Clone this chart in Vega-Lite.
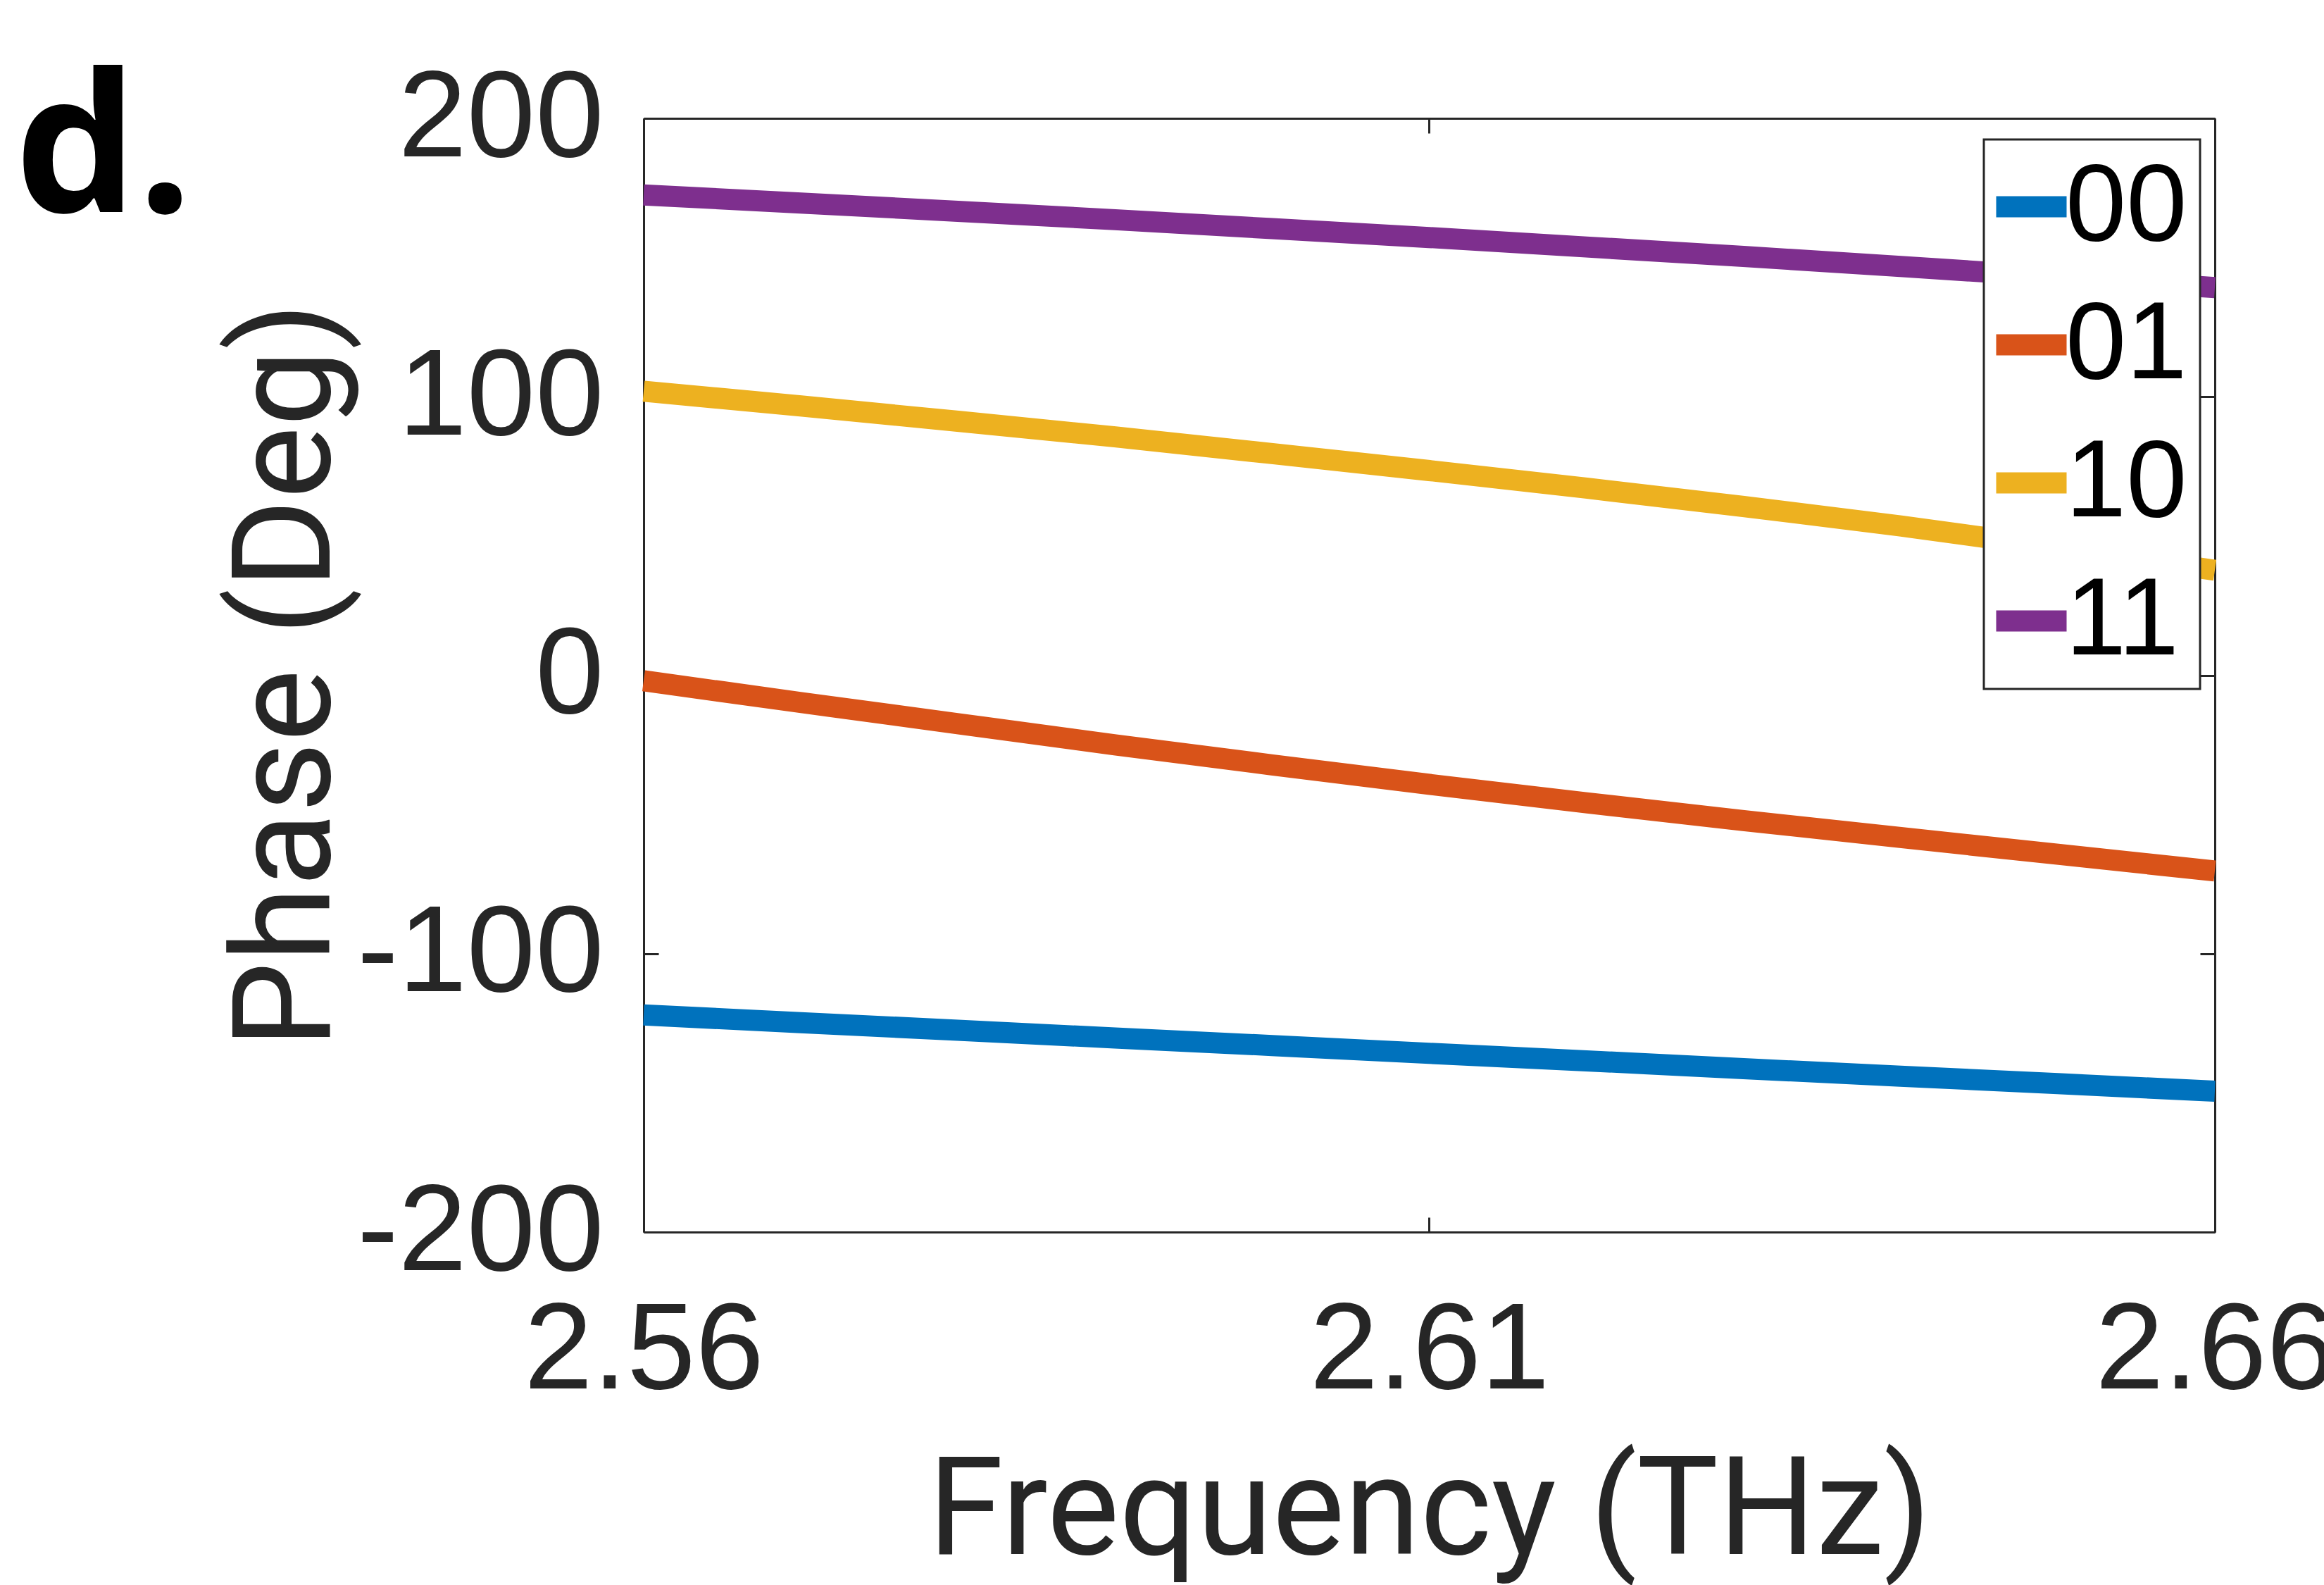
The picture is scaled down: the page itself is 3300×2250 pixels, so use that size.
{
  "$schema": "https://vega.github.io/schema/vega-lite/v6.json",
  "width": 2231,
  "height": 1581,
  "autosize": {"type": "none"},
  "padding": {"left": 914, "top": 168, "right": 155, "bottom": 501},
  "background": "white",
  "title": {
    "text": "d.",
    "anchor": "start",
    "frame": "group",
    "font": "Open Sans",
    "fontSize": 275,
    "fontWeight": "bold",
    "color": "black",
    "baseline": "alphabetic",
    "offset": 0,
    "dx": -893,
    "dy": 495
  },
  "config": {
    "view": {"stroke": null},
    "axis": {
      "grid": false,
      "domainColor": "#262626",
      "domainWidth": 3,
      "tickColor": "#262626",
      "tickWidth": 3,
      "tickSize": -21,
      "labelFont": "Liberation Sans",
      "labelFontSize": 175,
      "labelColor": "#262626",
      "labelLimit": 0,
      "labelFlush": false,
      "labelOverlap": false,
      "labelBound": false,
      "titleFont": "Roboto",
      "titleFontSize": 194,
      "titleFontWeight": "normal",
      "titleColor": "#262626"
    }
  },
  "data": {
    "values": [
      {"f": 2.56, "phase": -122.0, "state": "00"},
      {"f": 2.57, "phase": -124.8, "state": "00"},
      {"f": 2.58, "phase": -127.5, "state": "00"},
      {"f": 2.59, "phase": -130.3, "state": "00"},
      {"f": 2.60, "phase": -133.0, "state": "00"},
      {"f": 2.61, "phase": -135.8, "state": "00"},
      {"f": 2.62, "phase": -138.5, "state": "00"},
      {"f": 2.63, "phase": -141.3, "state": "00"},
      {"f": 2.64, "phase": -144.0, "state": "00"},
      {"f": 2.65, "phase": -146.7, "state": "00"},
      {"f": 2.66, "phase": -149.4, "state": "00"},
      {"f": 2.56, "phase": -2.0, "state": "01"},
      {"f": 2.57, "phase": -9.8, "state": "01"},
      {"f": 2.58, "phase": -17.4, "state": "01"},
      {"f": 2.59, "phase": -25.0, "state": "01"},
      {"f": 2.60, "phase": -32.2, "state": "01"},
      {"f": 2.61, "phase": -39.2, "state": "01"},
      {"f": 2.62, "phase": -45.8, "state": "01"},
      {"f": 2.63, "phase": -52.2, "state": "01"},
      {"f": 2.64, "phase": -58.3, "state": "01"},
      {"f": 2.65, "phase": -64.3, "state": "01"},
      {"f": 2.66, "phase": -70.3, "state": "01"},
      {"f": 2.56, "phase": 102.0, "state": "10"},
      {"f": 2.57, "phase": 96.7, "state": "10"},
      {"f": 2.58, "phase": 91.2, "state": "10"},
      {"f": 2.59, "phase": 85.6, "state": "10"},
      {"f": 2.60, "phase": 79.6, "state": "10"},
      {"f": 2.61, "phase": 73.5, "state": "10"},
      {"f": 2.62, "phase": 67.2, "state": "10"},
      {"f": 2.63, "phase": 60.6, "state": "10"},
      {"f": 2.64, "phase": 53.6, "state": "10"},
      {"f": 2.65, "phase": 45.9, "state": "10"},
      {"f": 2.66, "phase": 37.7, "state": "10"},
      {"f": 2.56, "phase": 172.5, "state": "11"},
      {"f": 2.57, "phase": 169.6, "state": "11"},
      {"f": 2.58, "phase": 166.6, "state": "11"},
      {"f": 2.59, "phase": 163.6, "state": "11"},
      {"f": 2.60, "phase": 160.4, "state": "11"},
      {"f": 2.61, "phase": 157.2, "state": "11"},
      {"f": 2.62, "phase": 153.8, "state": "11"},
      {"f": 2.63, "phase": 150.4, "state": "11"},
      {"f": 2.64, "phase": 146.8, "state": "11"},
      {"f": 2.65, "phase": 143.1, "state": "11"},
      {"f": 2.66, "phase": 139.2, "state": "11"}
    ]
  },
  "layer": [
    {
      "mark": {"type": "line", "strokeWidth": 30},
      "encoding": {
        "x": {
          "field": "f",
          "type": "quantitative",
          "scale": {"domain": [2.56, 2.66], "nice": false, "zero": false},
          "axis": {
            "orient": "bottom",
            "values": [2.56, 2.61, 2.66],
            "format": ".2f",
            "labelPadding": 104,
            "title": "Frequency (THz)",
            "titleX": 1115.5,
            "titleY": 456,
            "titleAlign": "center",
            "titleBaseline": "alphabetic"
          }
        },
        "y": {
          "field": "phase",
          "type": "quantitative",
          "scale": {"domain": [-200, 200], "nice": false, "zero": false},
          "axis": {
            "orient": "left",
            "values": [-200, -100, 0, 100, 200],
            "labelExpr": "'' + datum.value",
            "labelPadding": 78,
            "title": "Phase (Deg)",
            "titleX": -447,
            "titleY": 790,
            "titleAngle": 270,
            "titleAlign": "center",
            "titleBaseline": "alphabetic"
          }
        },
        "color": {
          "field": "state",
          "type": "nominal",
          "scale": {
            "domain": ["00", "01", "10", "11"],
            "range": ["#0072BD", "#D95319", "#EDB120", "#7E2F8E"]
          },
          "legend": {
            "title": null,
            "orient": "none",
            "legendX": 1903,
            "legendY": 30,
            "fillColor": "white",
            "strokeColor": "#262626",
            "padding": 18,
            "symbolType": "M-1,-0.3H1V0.3H-1Z",
            "symbolSize": 10000,
            "symbolOpacity": 1,
            "symbolOffset": -28,
            "labelFont": "Liberation Sans",
            "labelFontSize": 155,
            "labelColor": "black",
            "labelOffset": -29,
            "labelLimit": 0,
            "rowPadding": 40,
            "encode": {
              "legend": {"update": {"strokeWidth": {"value": 3}}},
              "symbols": {
                "update": {
                  "fill": {"scale": "color", "field": "value"},
                  "stroke": {"value": "transparent"},
                  "strokeWidth": {"value": 0}
                }
              }
            }
          }
        }
      }
    },
    {
      "mark": {"type": "line", "opacity": 0},
      "encoding": {
        "x": {
          "field": "f",
          "type": "quantitative",
          "axis": {"orient": "top", "values": [2.56, 2.61, 2.66], "labels": false, "title": null}
        },
        "y": {
          "field": "phase",
          "type": "quantitative",
          "axis": {"orient": "right", "values": [-200, -100, 0, 100, 200], "labels": false, "title": null}
        },
        "detail": {"field": "state", "type": "nominal"}
      }
    }
  ],
  "resolve": {"axis": {"x": "independent", "y": "independent"}}
}
